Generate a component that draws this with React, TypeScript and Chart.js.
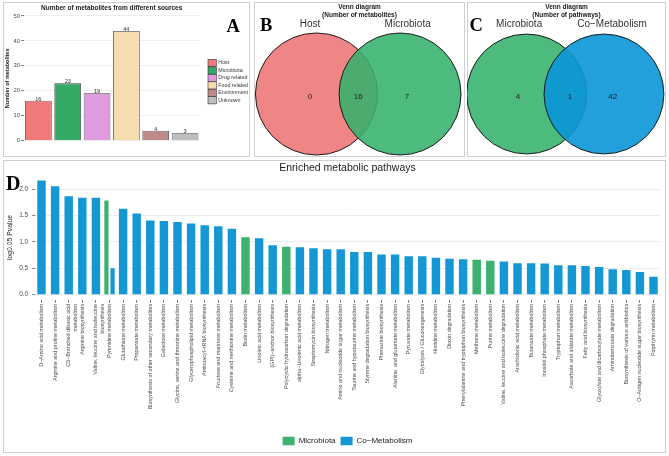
import { useEffect, useRef } from 'react';
import { Chart, registerables } from 'chart.js';

Chart.register(...registerables);

const FONT = "'Liberation Sans', Arial, Helvetica, sans-serif";
const SERIF = "'Liberation Serif', 'Times New Roman', serif";
Chart.defaults.font.family = FONT;

// ---------- Panel A data ----------
const sourceCategories = ['Host', 'Microbiota', 'Drug related', 'Food related', 'Environment', 'Unknown'];
const sourceCounts = [16, 23, 19, 44, 4, 3];
const sourceColors = ['#F07A7A', '#35AA66', '#DE9BDD', '#F6DDB0', '#BC8A8A', '#BEBEBE'];
const sourceTicks = [0, 10, 20, 30, 40, 50];

// ---------- Panel B / C data ----------
const metaboliteSets = ['Host', 'Microbiota'];
const metaboliteRegionCounts = [0, 16, 7];
const pathwaySets = ['Microbiota', 'Co−Metabolism'];
const pathwayRegionCounts = [4, 1, 42];

// ---------- Panel D data ----------
const pathways: (string | string[])[] = [
  'D−Amino acid metabolism',
  'Arginine and proline metabolism',
  ['C5−Branched dibasic acid', 'metabolism'],
  'Arginine biosynthesis',
  ['Valine, leucine and isoleucine', 'biosynthesis'],
  'Pyrimidine metabolism',
  'Glutathione metabolism',
  'Propanoate metabolism',
  'Biosynthesis of other secondary metabolites',
  'Galactose metabolism',
  'Glycine, serine and threonine metabolism',
  'Glycerophospholipid metabolism',
  'Aminoacyl−tRNA biosynthesis',
  'Fructose and mannose metabolism',
  'Cysteine and methionine metabolism',
  'Biotin metabolism',
  'Linoleic acid metabolism',
  '(GPI)−anchor biosynthesis',
  'Polycyclic hydrocarbon degradation',
  'alpha−Linolenic acid metabolism',
  'Streptomycin biosynthesis',
  'Nitrogen metabolism',
  'Amino and nucleotide sugar metabolism',
  'Taurine and hypotaurine metabolism',
  'Styrene degradation biosynthesis',
  'Phenazine biosynthesis',
  'Alanine, and glutamate metabolism',
  'Pyruvate metabolism',
  'Glycolysis / Gluconeogenesis',
  'Histidine metabolism',
  'Dioxin degradation',
  'Phenylalanine and tryptophan biosynthesis',
  'Methane metabolism',
  'Purine metabolism',
  'Valine, leucine and isoleucine degradation',
  'Arachidonic acid metabolism',
  'Butanoate metabolism',
  'Inositol phosphate metabolism',
  'Tryptophan metabolism',
  'Ascorbate and aldarate metabolism',
  'Fatty acid biosynthesis',
  'Glyoxylate and dicarboxylate metabolism',
  'Aminobenzoate degradation',
  'Biosynthesis of various antibiotics',
  'O−Antigen nucleotide sugar biosynthesis',
  'Porphyrin metabolism',
];

const microbiotaLog = [
  null, null, null, null, null, 1.79, null, null, null, null,
  null, null, null, null, null, 1.09, null, null, 0.91, null,
  null, null, null, null, null, null, null, null, null, null,
  null, null, 0.66, 0.645, null, null, null, null, null, null,
  null, null, null, null, null, null,
];

const coMetabolismLog = [
  2.17, 2.06, 1.87, 1.84, 1.84, 0.5, 1.63, 1.54, 1.41, 1.4,
  1.38, 1.35, 1.32, 1.3, 1.25, null, 1.07, 0.94, null, 0.9,
  0.88, 0.86, 0.86, 0.81, 0.81, 0.76, 0.76, 0.73, 0.73, 0.7,
  0.68, 0.67, null, null, 0.63, 0.595, 0.595, 0.59, 0.557, 0.557,
  0.544, 0.525, 0.48, 0.468, 0.43, 0.34,
];

const pvalueTicks = [0, 0.5, 1, 1.5, 2];

const GREEN = '#3DB16E';
const BLUE = '#1597D3';

// ---------- shared plugins ----------
const centerBoxes = {
  id: 'centerBoxes',
  afterLayout(chart: any) {
    const ca = chart.chartArea;
    const mid = (ca.left + ca.right) / 2;
    [chart.titleBlock, chart.legend].forEach((b: any) => {
      if (!b || !b.options || !b.options.display) return;
      const dx = mid - (b.left + b.right) / 2;
      b.left += dx;
      b.right += dx;
    });
  },
};

function SourcesChart() {
  const ref = useRef<HTMLCanvasElement>(null);
  useEffect(() => {
    const valueLabels = {
      id: 'valueLabels',
      afterDatasetsDraw(chart: any) {
        const { ctx } = chart;
        const meta = chart.getDatasetMeta(0);
        ctx.save();
        ctx.font = `5.5px ${FONT}`;
        ctx.fillStyle = '#333';
        ctx.textAlign = 'center';
        ctx.textBaseline = 'alphabetic';
        meta.data.forEach((el: any, i: number) => {
          ctx.fillText(String(sourceCounts[i]), el.x, el.y - 0.2);
        });
        ctx.restore();
      },
    };
    const sourceLegend = {
      id: 'sourceLegend',
      afterDraw(chart: any) {
        const { ctx, chartArea: ca } = chart;
        const x0 = ca.right + 8.3;
        const cy = (ca.top + ca.bottom) / 2 + 3.3;
        ctx.save();
        ctx.font = `5.3px ${FONT}`;
        ctx.textBaseline = 'middle';
        ctx.textAlign = 'left';
        sourceCategories.forEach((name, i) => {
          const y = cy + (i - 2.5) * 7.46;
          ctx.fillStyle = sourceColors[i];
          ctx.fillRect(x0, y - 3.6, 8.3, 7.2);
          ctx.strokeStyle = '#333';
          ctx.lineWidth = 0.6;
          ctx.strokeRect(x0, y - 3.6, 8.3, 7.2);
          ctx.fillStyle = '#333';
          ctx.fillText(name, x0 + 10.3, y);
        });
        ctx.restore();
      },
    };
    const chart = new Chart(ref.current as HTMLCanvasElement, {
      type: 'bar',
      data: {
        labels: sourceCategories,
        datasets: [
          {
            label: 'Number of metabolites',
            data: sourceCounts,
            backgroundColor: sourceColors,
            borderColor: '#3a3a3a',
            borderWidth: 0.8,
            categoryPercentage: 1,
            barPercentage: 0.91,
          },
        ],
      },
      options: {
        animation: false,
        responsive: false,
        devicePixelRatio: 1,
        events: [],
        layout: { padding: { left: 0, right: 50.3, top: 0, bottom: 13.8 } },
        scales: {
          x: { display: false },
          y: {
            min: -1,
            max: 51,
            afterBuildTicks: (s: any) => {
              s.ticks = sourceTicks.map((v) => ({ value: v }));
            },
            afterFit: (s: any) => {
              s.width = 20.7;
            },
            grid: { color: '#ebebeb', lineWidth: 0.8, tickColor: '#5a5a5a', tickLength: 2.5 },
            border: { display: false },
            ticks: { font: { size: 5.8 }, color: '#4d4d4d', padding: 1.2 },
            title: {
              display: true,
              text: 'Number of metabolites',
              font: { size: 5.5, weight: 'bold' },
              color: '#1a1a1a',
              padding: { top: 0.9, bottom: 0 },
            },
          },
        },
        plugins: {
          legend: { display: false },
          tooltip: { enabled: false },
          title: {
            display: true,
            text: 'Number of metabolites from different sources',
            font: { size: 6.5, weight: 'bold' },
            color: '#1a1a1a',
            padding: { top: 2, bottom: 1.7 },
          },
        },
      } as any,
      plugins: [centerBoxes, valueLabels, sourceLegend],
    });
    return () => chart.destroy();
  }, []);
  return (
    <canvas
      ref={ref}
      width={247}
      height={155}
      style={{ position: 'absolute', left: 3, top: 2, width: 247, height: 155 }}
    />
  );
}

type VennLayout = {
  width: number;
  height: number;
  xMin: number;
  xMax: number;
  yMin: number;
  yMax: number;
  sep: number;
  countX: number[];
  countY: number;
  nameX: number[];
  nameY: number;
};

function VennChart(props: {
  left: number;
  top: number;
  sets: string[];
  counts: number[];
  title: string[];
  fills: string[];
  layout: VennLayout;
}) {
  const { left, top, sets, counts, title, fills, layout } = props;
  const ref = useRef<HTMLCanvasElement>(null);
  useEffect(() => {
    // one scale unit = one circle radius; scales span the full canvas width
    const unitPx = layout.width / (layout.xMax - layout.xMin);
    const vennText = {
      id: 'vennText',
      afterDatasetsDraw(chart: any) {
        const { ctx } = chart;
        const x = chart.scales.x;
        const y = chart.scales.y;
        ctx.save();
        ctx.textAlign = 'center';
        ctx.textBaseline = 'middle';
        ctx.fillStyle = '#222';
        ctx.font = `8px ${FONT}`;
        counts.forEach((c, i) => {
          ctx.fillText(String(c), x.getPixelForValue(layout.countX[i]), y.getPixelForValue(layout.countY));
        });
        ctx.fillStyle = '#333';
        ctx.font = `10px ${FONT}`;
        sets.forEach((name, i) => {
          ctx.fillText(name, x.getPixelForValue(layout.nameX[i]), y.getPixelForValue(layout.nameY));
        });
        ctx.restore();
      },
    };
    const chart = new Chart(ref.current as HTMLCanvasElement, {
      type: 'bubble',
      data: {
        datasets: sets.map((name, i) => ({
          label: name,
          data: [{ x: ((i === 0 ? -1 : 1) * layout.sep) / 2, y: 0, r: unitPx }],
          backgroundColor: fills[i],
          borderColor: '#1c1c1c',
          borderWidth: 1,
          hoverRadius: 0,
          clip: false,
          // second set is drawn on top of the first
          order: sets.length - 1 - i,
        })),
      },
      options: {
        animation: false,
        responsive: false,
        devicePixelRatio: 1,
        events: [],
        layout: { padding: 0, autoPadding: false },
        scales: {
          x: { type: 'linear', display: false, min: layout.xMin, max: layout.xMax },
          y: { type: 'linear', display: false, min: layout.yMin, max: layout.yMax },
        },
        plugins: {
          legend: { display: false },
          tooltip: { enabled: false },
          title: {
            display: true,
            text: title,
            font: { size: 6.5, weight: 'bold' },
            color: '#1a1a1a',
            padding: { top: 1.2, bottom: 0 },
          },
        },
      } as any,
      plugins: [vennText],
    });
    return () => chart.destroy();
  }, []);
  return (
    <canvas
      ref={ref}
      width={layout.width}
      height={layout.height}
      style={{ position: 'absolute', left, top, width: layout.width, height: layout.height }}
    />
  );
}

function PathwayChart() {
  const ref = useRef<HTMLCanvasElement>(null);
  useEffect(() => {
    const chart = new Chart(ref.current as HTMLCanvasElement, {
      type: 'bar',
      data: {
        labels: pathways,
        datasets: [
          {
            label: 'Microbiota',
            data: microbiotaLog,
            backgroundColor: GREEN,
            borderWidth: 0,
            skipNull: true,
            categoryPercentage: 0.9,
            barPercentage: 0.69,
          },
          {
            label: 'Co−Metabolism',
            data: coMetabolismLog,
            backgroundColor: BLUE,
            borderWidth: 0,
            skipNull: true,
            categoryPercentage: 0.9,
            barPercentage: 0.69,
          },
        ],
      },
      options: {
        animation: false,
        responsive: false,
        devicePixelRatio: 1,
        events: [],
        layout: { padding: { left: 0, right: 5.7, top: 0, bottom: 0.65 } },
        scales: {
          x: {
            afterFit: (s: any) => {
              s.height = 131.25;
            },
            grid: {
              offset: false,
              drawOnChartArea: false,
              tickLength: 2.5,
              tickColor: '#5a5a5a',
              tickWidth: 0.8,
            },
            border: { display: false },
            ticks: {
              autoSkip: false,
              minRotation: 90,
              maxRotation: 90,
              font: { size: 5.4 },
              color: '#4d4d4d',
              padding: 1,
            },
          },
          y: {
            min: -0.11,
            max: 2.28,
            afterBuildTicks: (s: any) => {
              s.ticks = pvalueTicks.map((v) => ({ value: v }));
            },
            afterFit: (s: any) => {
              s.width = 31.7;
            },
            grid: { color: '#e8e8e8', lineWidth: 0.8, tickColor: '#5a5a5a', tickLength: 2.5 },
            border: { display: false },
            ticks: {
              font: { size: 6.5 },
              color: '#4d4d4d',
              padding: 4,
              callback: (v: any) => Number(v).toFixed(1),
            },
            title: {
              display: true,
              text: 'log0.05 Pvalue',
              font: { size: 6.8 },
              color: '#1a1a1a',
              padding: { top: 2.6, bottom: 0 },
            },
          },
        },
        plugins: {
          tooltip: { enabled: false },
          title: {
            display: true,
            text: 'Enriched metabolic pathways',
            font: { size: 10.5, weight: 'normal' },
            color: '#222',
            padding: { top: 1, bottom: 0 },
          },
          legend: {
            position: 'bottom',
            labels: {
              boxWidth: 12,
              boxHeight: 8.7,
              font: { size: 8 },
              color: '#1a1a1a',
              padding: 5,
            },
          },
        },
      } as any,
      plugins: [centerBoxes],
    });
    return () => chart.destroy();
  }, []);
  return (
    <canvas
      ref={ref}
      width={663}
      height={295}
      style={{ position: 'absolute', left: 3, top: 161, width: 663, height: 295 }}
    />
  );
}

function Frame(props: { x: number; y: number; w: number; h: number }) {
  return (
    <div
      style={{
        position: 'absolute',
        left: props.x,
        top: props.y,
        width: props.w,
        height: props.h,
        border: '1px solid #cfcfcf',
        boxSizing: 'border-box',
      }}
    />
  );
}

function PanelLetter(props: { text: string; left: number; top: number; size: number }) {
  return (
    <div
      style={{
        position: 'absolute',
        left: props.left,
        top: props.top,
        fontFamily: SERIF,
        fontWeight: 'bold',
        fontSize: props.size,
        lineHeight: `${props.size}px`,
        color: '#000',
        whiteSpace: 'nowrap',
      }}
    >
      {props.text}
    </div>
  );
}

const vennLayoutB: VennLayout = {
  width: 211,
  height: 155,
  xMin: -1.709,
  xMax: 1.75,
  yMin: -1.033,
  yMax: 1.233,
  sep: 1.37,
  countX: [-0.79, 0, 0.8],
  countY: -0.05,
  nameX: [-0.79, 0.81],
  nameY: 1.148,
};

const vennLayoutC: VennLayout = {
  width: 199,
  height: 155,
  xMin: -1.64,
  xMax: 1.68,
  yMin: -1.05,
  yMax: 1.253,
  sep: 1.29,
  countX: [-0.79, 0.08, 0.79],
  countY: -0.05,
  nameX: [-0.77, 0.78],
  nameY: 1.167,
};

export default function App() {
  return (
    <div
      style={{
        position: 'absolute',
        left: 0,
        top: 0,
        width: 669,
        height: 456,
        background: '#fff',
        overflow: 'hidden',
        fontFamily: FONT,
      }}
    >
      <Frame x={3} y={2} w={247} h={155} />
      <Frame x={254} y={2} w={211} h={155} />
      <Frame x={467} y={2} w={199} h={155} />
      <Frame x={3} y={160} w={663} h={293} />
      <SourcesChart />
      <VennChart
        left={254}
        top={2}
        sets={metaboliteSets}
        counts={metaboliteRegionCounts}
        title={['Venn diagram', '(Number of metabolites)']}
        fills={['#F08585', 'rgba(52,178,108,0.88)']}
        layout={vennLayoutB}
      />
      <VennChart
        left={467}
        top={2}
        sets={pathwaySets}
        counts={pathwayRegionCounts}
        title={['Venn diagram', '(Number of pathways)']}
        fills={['#4DBB7D', 'rgba(10,150,215,0.9)']}
        layout={vennLayoutC}
      />
      <PathwayChart />
      <PanelLetter text="A" left={226.5} top={16.75} size={18.5} />
      <PanelLetter text="B" left={260} top={16} size={18.5} />
      <PanelLetter text="C" left={469.5} top={16} size={18.5} />
      <PanelLetter text="D" left={6} top={172.5} size={20} />
    </div>
  );
}
